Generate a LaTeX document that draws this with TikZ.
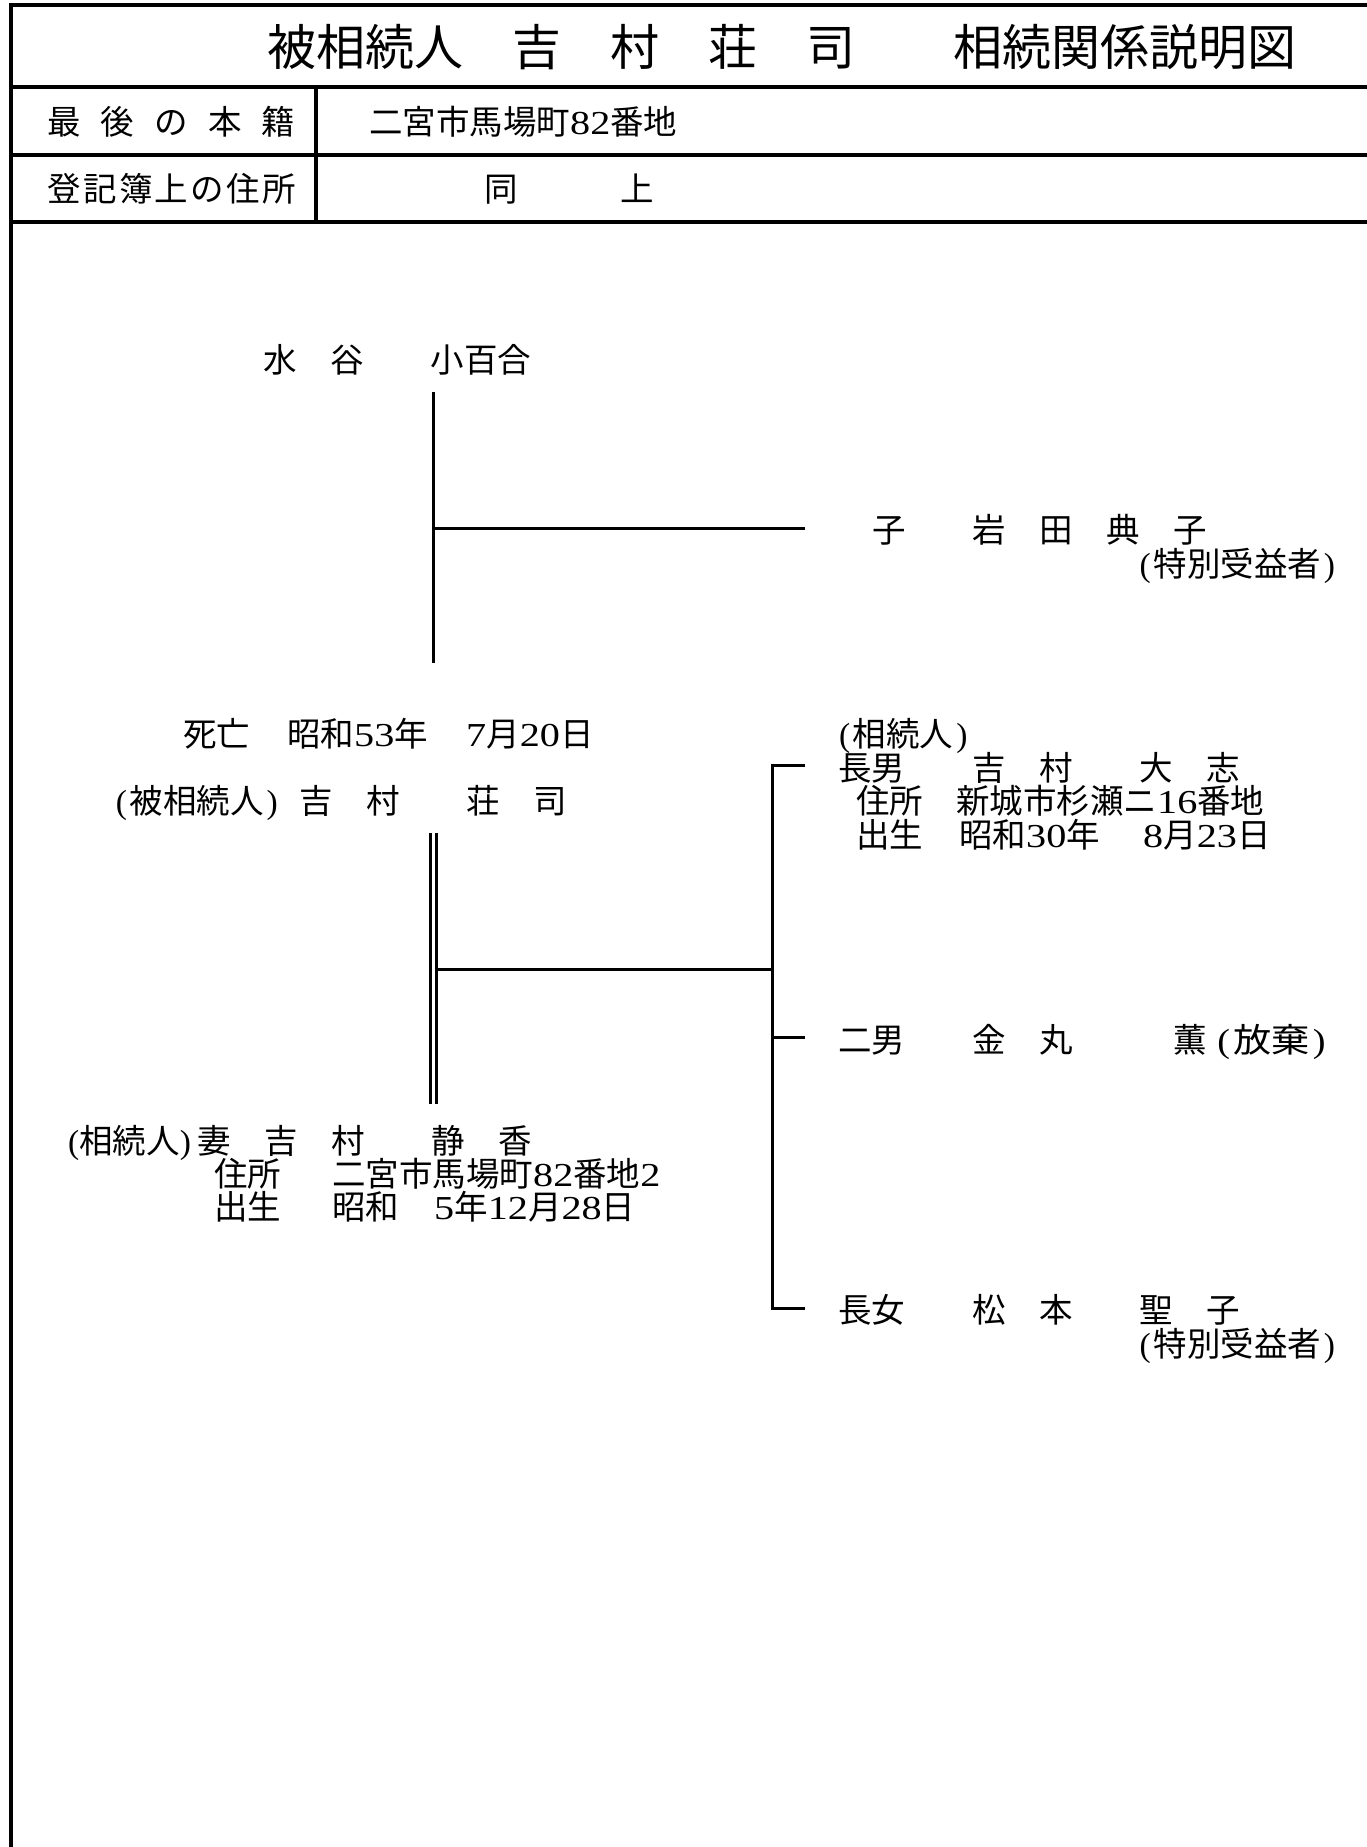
\documentclass[tikz,border=0pt]{standalone}
\usepackage{fontspec}
\usepackage{graphicx}
\setmainfont{Noto Sans CJK JP}
\newfontfamily\lat{Liberation Serif}
\newfontfamily\latw{Liberation Serif}[FakeStretch=1.2]
\newcommand\nm[1]{{\latw #1}}
\newcommand\lp{\makebox[0.5em]{\lat(}}
\newcommand\rp{\makebox[0.5em]{\lat)}}
\newcommand\bodysize{\fontsize{33.5pt}{33.5pt}\selectfont}
\newcommand\titlesize{\fontsize{49pt}{49pt}\selectfont}
\begin{document}
\begin{tikzpicture}[x=1pt,y=-1pt,
  txt/.style={anchor=base west, inner sep=0pt, font=\bodysize},
  txte/.style={anchor=base east, inner sep=0pt, font=\bodysize},
  ttl/.style={anchor=base west, inner sep=0pt, font=\titlesize},
  frameline/.style={line width=3.4pt},
  link/.style={line width=3pt},
  marriage/.style={line width=2.8pt, double, double distance=3.2pt}]
\useasboundingbox (0,0) rectangle (1367,1847);
% ---------- frame / header table ----------
\coordinate (fTR) at (1367,5);
\coordinate (fTL) at (11,5);
\coordinate (fBL) at (11,1847);
\coordinate (h1L) at (11,87);   \coordinate (h1R) at (1367,87);
\coordinate (h2L) at (11,155);  \coordinate (h2R) at (1367,155);
\coordinate (h3L) at (11,222);  \coordinate (h3R) at (1367,222);
\coordinate (vT) at (316,87);   \coordinate (vB) at (316,222);
\draw[frameline] (fTR) -- (fTL) -- (fBL);
\draw[frameline] (h1L) -- (h1R);
\draw[frameline] (h2L) -- (h2R);
\draw[frameline] (h3L) -- (h3R);
\draw[frameline] (vT) -- (vB);
\node[ttl] (title) at (267,65) {被相続人　吉　村　荘　司　　相続関係説明図};
\node[txt] (lab1) at (47,134) {\hbox to 248pt{最\hfill 後\hfill の\hfill 本\hfill 籍}};
\node[txt] (val1) at (369,134) {二宮市馬場町\nm{82}番地};
\node[txt] (lab2) at (47,201) {\hbox to 249pt{登\hfill 記\hfill 簿\hfill 上\hfill の\hfill 住\hfill 所}};
\node[txt] (val2a) at (484,201) {同};
\node[txt] (val2b) at (620,201) {上};
% ---------- upper family (mother) ----------
\node[txt] (mother) at (263,372) {水　谷　　小百合};
\coordinate (mtop) at (433,392);
\coordinate (mbot) at (433,663);
\coordinate (mj) at (433,528);
\coordinate (mend) at (805,528);
\draw[link] (mtop) -- (mbot);
\draw[link] (mj) -- (mend);
\node[txt] (sib) at (872,542) {子　　岩　田　典　子};
\node[txte] (sibnote) at (1338,576) {\lp 特別受益者\rp};
% ---------- deceased ----------
\node[txt] (deathA) at (183,746) {死亡};
\node[txt] (deathB) at (287,746) {昭和\nm{53}年};
\node[txt] (deathC) at (466,746) {\nm{7}月\nm{20}日};
\node[txt] (decA) at (113,813) {\lp 被相続人\rp};
\node[txt] (decB) at (299,813) {吉　村　　荘　司};
% ---------- marriage line ----------
\coordinate (dtop) at (433.5,833);
\coordinate (dbot) at (433.5,1104);
\draw[marriage] (dtop) -- (dbot);
\coordinate (dj) at (436.5,969);
\coordinate (cj) at (772,969);
\draw[link] (dj) -- (cj);
% ---------- spouse ----------
\node[txt] (spA) at (68,1153) {\lat(\rmfamily 相続人\lat)};
\node[txt] (spB) at (197,1153) {妻　吉　村　　静　香};
\node[txt] (spC) at (214,1186) {住所};
\node[txt] (spD) at (332,1186) {二宮市馬場町\nm{82}番地\nm{2}};
\node[txt] (spE) at (214,1219) {出生};
\node[txt] (spF) at (332,1219) {昭和};
\node[txt] (spG) at (434,1219) {\nm{5}年\nm{12}月\nm{28}日};
% ---------- children bracket ----------
\coordinate (r1) at (805,765);
\coordinate (r1c) at (772,765);
\coordinate (r2) at (805,1037);
\coordinate (r2c) at (772,1037);
\coordinate (r3) at (805,1308);
\coordinate (r3c) at (772,1308);
\draw[link] (r1) -- (r1c) -- (r3c) -- (r3);
\draw[link] (r2c) -- (r2);
% ---------- children ----------
\node[txt] (c1tag) at (836,746) {\lp 相続人\rp};
\node[txt] (c1name) at (838,780) {長男　　吉　村　　大　志};
\node[txt] (c1addA) at (856,813) {住所};
\node[txt] (c1addB) at (956,813) {新城市杉瀬ニ\nm{16}番地};
\node[txt] (c1birA) at (856,847) {出生};
\node[txt] (c1birB) at (959,847) {昭和\nm{30}年};
\node[txt] (c1birC) at (1143,847) {\nm{8}月\nm{23}日};
\node[txt] (c2name) at (838,1052) {二男　　金　丸　　　薫};
\node[txt] (c2note) at (1214,1052) {\scalebox{1.14}[1]{\lp 放棄\rp}};
\node[txt] (c3name) at (838,1322) {長女　　松　本　　聖　子};
\node[txte] (c3note) at (1338,1356) {\lp 特別受益者\rp};
\end{tikzpicture}
\end{document}
